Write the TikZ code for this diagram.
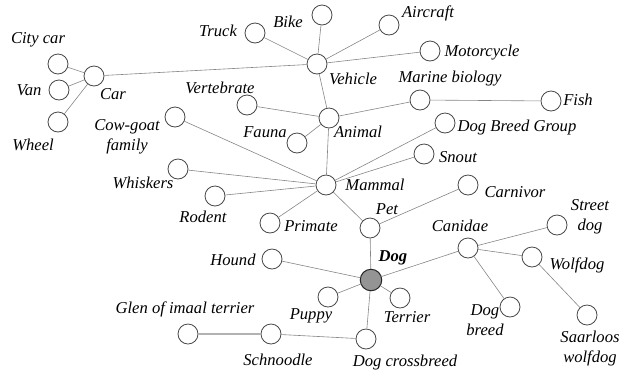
\documentclass[tikz,border=0pt]{standalone}
\usepackage{fontspec}
\setmainfont{Liberation Serif}
\begin{document}
\begin{tikzpicture}[x=1pt,y=-1pt,
  vtx/.style={circle,draw=black!72,line width=0.8pt,minimum size=20pt,inner sep=0pt,fill=white},
  hub/.style={vtx,minimum size=21.5pt,fill=black!42,draw=black!85,line width=1pt},
  lbl/.style={font=\fontsize{16.6}{20}\selectfont\itshape,inner sep=0pt,align=center,text=black},
  edge/.style={draw=black!48,line width=0.6pt}]
\useasboundingbox (0,0) rectangle (631,373);
% vertices
\node[vtx] (citycar) at (58,64) {};
\node[vtx] (van) at (59,90) {};
\node[vtx] (wheel) at (58,122) {};
\node[vtx] (car) at (94,76) {};
\node[vtx] (truck) at (255,33) {};
\node[vtx] (bike) at (322,15) {};
\node[vtx] (aircraft) at (389,25) {};
\node[vtx] (vehicle) at (317,64) {};
\node[vtx] (motorcycle) at (430,51) {};
\node[vtx] (vertebrate) at (247,105) {};
\node[vtx] (fauna) at (297,143) {};
\node[vtx] (animal) at (329,118) {};
\node[vtx] (marine) at (420,100) {};
\node[vtx] (fish) at (551,101) {};
\node[vtx] (cowgoat) at (175,117) {};
\node[vtx] (whiskers) at (178,169) {};
\node[vtx] (rodent) at (215,196) {};
\node[vtx] (primate) at (270,223) {};
\node[vtx] (mammal) at (326,185) {};
\node[vtx] (dbg) at (445,123) {};
\node[vtx] (snout) at (424,154) {};
\node[vtx] (carnivor) at (468,185) {};
\node[vtx] (pet) at (370,228) {};
\node[vtx] (hound) at (272,259) {};
\node[vtx] (puppy) at (328,297) {};
\node[vtx] (terrier) at (400,298) {};
\node[vtx] (dcross) at (366,339) {};
\node[vtx] (canidae) at (468,248) {};
\node[vtx] (street) at (557,225) {};
\node[vtx] (wolfdog) at (532,257) {};
\node[vtx] (dogbreed) at (510,307) {};
\node[vtx] (saarloos) at (587,315) {};
\node[vtx] (glen) at (188,334) {};
\node[vtx] (schnoodle) at (271,334) {};
\node[hub] (dog) at (371,280) {};
% edges
\foreach \a/\b in {car/citycar,car/van,car/wheel,car/vehicle,
  vehicle/truck,vehicle/bike,vehicle/aircraft,vehicle/motorcycle,vehicle/animal,
  animal/vertebrate,animal/fauna,animal/marine,animal/mammal,marine/fish,
  mammal/cowgoat,mammal/whiskers,mammal/rodent,mammal/primate,mammal/dbg,mammal/snout,mammal/pet,
  pet/carnivor,pet/dog,dog/hound,dog/puppy,dog/terrier,dog/dcross,dog/canidae,
  canidae/street,canidae/wolfdog,canidae/dogbreed,wolfdog/saarloos,
  dcross/schnoodle}
  \draw[edge] (\a) -- (\b);
\draw[draw=black!30,line width=1.1pt] (schnoodle) -- (glen);
% labels
\node[lbl] (l-citycar) at (38,40) {City car};
\node[lbl] (l-van) at (29,90) {Van};
\node[lbl] (l-wheel) at (33,145) {Wheel};
\node[lbl] (l-car) at (113,94) {Car};
\node[lbl] (l-truck) at (218,31) {Truck};
\node[lbl] (l-bike) at (288,22) {Bike};
\node[lbl] (l-aircraft) at (428,13) {Aircraft};
\node[lbl] (l-vehicle) at (353,79) {Vehicle};
\node[lbl] (l-motorcycle) at (482,53) {Motorcycle};
\node[lbl] (l-vertebrate) at (220,88) {Vertebrate};
\node[lbl] (l-fauna) at (265,132) {Fauna};
\node[lbl] (l-animal) at (358,132) {Animal};
\node[lbl] (l-marine) at (450,79) {Marine biology};
\node[lbl] (l-fish) at (578,100) {Fish};
\node[lbl] (l-cowgoat) at (127,137) {Cow-goat\\family};
\node[lbl] (l-whiskers) at (143,183) {Whiskers};
\node[lbl] (l-rodent) at (203,217) {Rodent};
\node[lbl] (l-primate) at (311,226) {Primate};
\node[lbl] (l-mammal) at (375,185) {Mammal};
\node[lbl] (l-dbg) at (517,128) {Dog Breed Group};
\node[lbl] (l-snout) at (458,157) {Snout};
\node[lbl] (l-carnivor) at (515,192) {Carnivor};
\node[lbl] (l-pet) at (387,209) {Pet};
\node[lbl,font=\fontsize{16.6}{20}\selectfont\bfseries\itshape] (l-dog) at (393,258) {Dog};
\node[lbl] (l-hound) at (233,260) {Hound};
\node[lbl] (l-puppy) at (311,316) {Puppy};
\node[lbl] (l-terrier) at (407,317) {Terrier};
\node[lbl] (l-dcross) at (405,362) {Dog crossbreed};
\node[lbl] (l-canidae) at (460,226) {Canidae};
\node[lbl] (l-street) at (590,217) {Street\\dog};
\node[lbl] (l-wolfdog) at (577,265) {Wolfdog};
\node[lbl] (l-dogbreed) at (485,320) {Dog\\breed};
\node[lbl] (l-saarloos) at (590,348) {Saarloos\\wolfdog};
\node[lbl] (l-glen) at (185,309) {Glen of imaal terrier};
\node[lbl] (l-schnoodle) at (278,360) {Schnoodle};
\end{tikzpicture}
\end{document}
